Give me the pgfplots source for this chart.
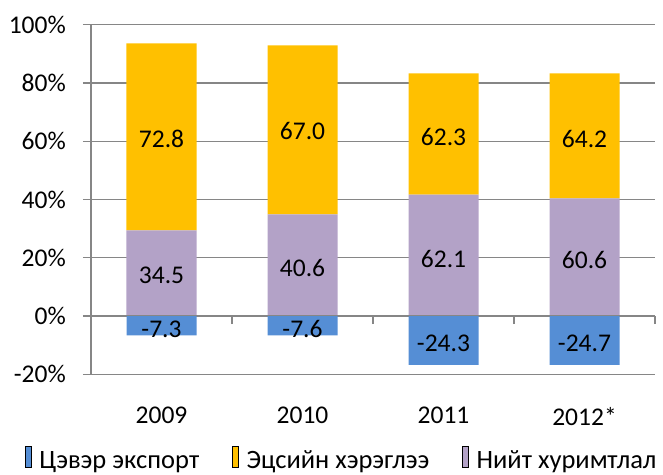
\documentclass[border=0pt]{standalone}
\usepackage{fontspec}
\setmainfont{Carlito}
\usepackage{pgfplots}
\pgfplotsset{compat=1.18}
\definecolor{cBlue}{RGB}{85,142,213}
\definecolor{cOrange}{RGB}{255,192,0}
\definecolor{cPurple}{RGB}{179,162,199}
\definecolor{cGrid}{RGB}{134,134,134}
\begin{document}
\fontsize{25.5bp}{30bp}\selectfont
\begin{tikzpicture}
\pgfplotsset{
  common/.style={
    scale only axis, width=564bp, height=349.6bp,
    xmin=-0.5, xmax=3.5, ymin=-20, ymax=100,
    bar width=70bp,
    /pgf/number format/assume math mode=true,
    tick label style={font=\fontsize{25.5bp}{30bp}\selectfont},
  },
}
\begin{axis}[common, ybar stacked, name=main,
  axis y line=left, axis x line=bottom,
  axis line style={cGrid, line width=1.2bp, -},
  ytick={-20,0,20,40,60,80,100},
  yticklabel={\pgfmathprintnumber{\tick}\%},
  ymajorgrids, grid style={cGrid, line width=1.2bp},
  xtick={0,1,2,3}, xticklabels={2009,2010,2011,2012*},
  x tick style={draw=none}, y tick style={cGrid, line width=1.2bp},
  tick align=outside, major tick length=8bp,
  xticklabel style={yshift=-16bp},
  yticklabel style={xshift=-8.5bp},
  legend columns=3,
  legend style={draw=none, at={(0,0)}, anchor=west, xshift=-66bp, yshift=-85bp,
    inner sep=0pt, outer sep=0pt,
    font=\fontsize{26.5bp}{30bp}\selectfont,
    nodes={inner sep=0pt},
    /tikz/every odd column/.append style={column sep=8bp},
    /tikz/every even column/.append style={column sep=33bp},
    legend image code/.code={\fill[#1] (0bp,-7bp) rectangle (14bp,7bp);}},
]
\addlegendimage{fill=cBlue, draw=none}
\addlegendentry{Цэвэр экспорт}
\addlegendimage{fill=cOrange, draw=none}
\addlegendentry{Эцсийн хэрэглээ}
\addlegendimage{fill=cPurple, draw=none}
\addlegendentry{Нийт хуримтлал}
% gross capital formation (purple)
\addplot[fill=cPurple, draw=none, forget plot] coordinates {
  (0,29.4) (1,34.9) (2,41.7) (3,40.4)};
% final consumption (orange)
\addplot[fill=cOrange, draw=none, forget plot] coordinates {
  (0,64.2) (1,58.0) (2,41.6) (3,42.9)};
\end{axis}
\begin{axis}[common, ybar, bar shift=0pt,
  axis y line=none, axis x line=middle,
  axis line style={cGrid, line width=1.2bp, -},
  xtick={0.5,1.5,2.5,3.5}, xticklabels={}, ytick=\empty,
  x tick style={cGrid, line width=1.2bp},
  tick align=outside, major tick length=8bp,
  every node near coord/.append style={anchor=center, inner sep=0pt,
      font=\fontsize{25.5bp}{30bp}\selectfont, text=black},
]
% net exports (blue)
\addplot[fill=cBlue, draw=none] coordinates {
  (0,-6.6) (1,-6.6) (2,-16.8) (3,-16.8)};
% value labels, at the middle of each segment
\addplot[draw=none, fill=none, point meta=explicit symbolic, nodes near coords] coordinates {
  (0,-4.6) [-7.3] (1,-4.6) [-7.6] (2,-9.4) [-24.3] (3,-9.4) [-24.7]
  (0,14.0) [34.5] (1,16.5) [40.6] (2,19.7) [62.1] (3,19.3) [60.6]
  (0,60.9) [72.8] (1,63.5) [67.0] (2,61.6) [62.3] (3,60.8) [64.2]};
\end{axis}
\pgfresetboundingbox
\path[use as bounding box] ([xshift=-91bp,yshift=-100.7bp]main.south west)
  rectangle ([xshift=572bp,yshift=374.3bp]main.south west);
\end{tikzpicture}
\end{document}
